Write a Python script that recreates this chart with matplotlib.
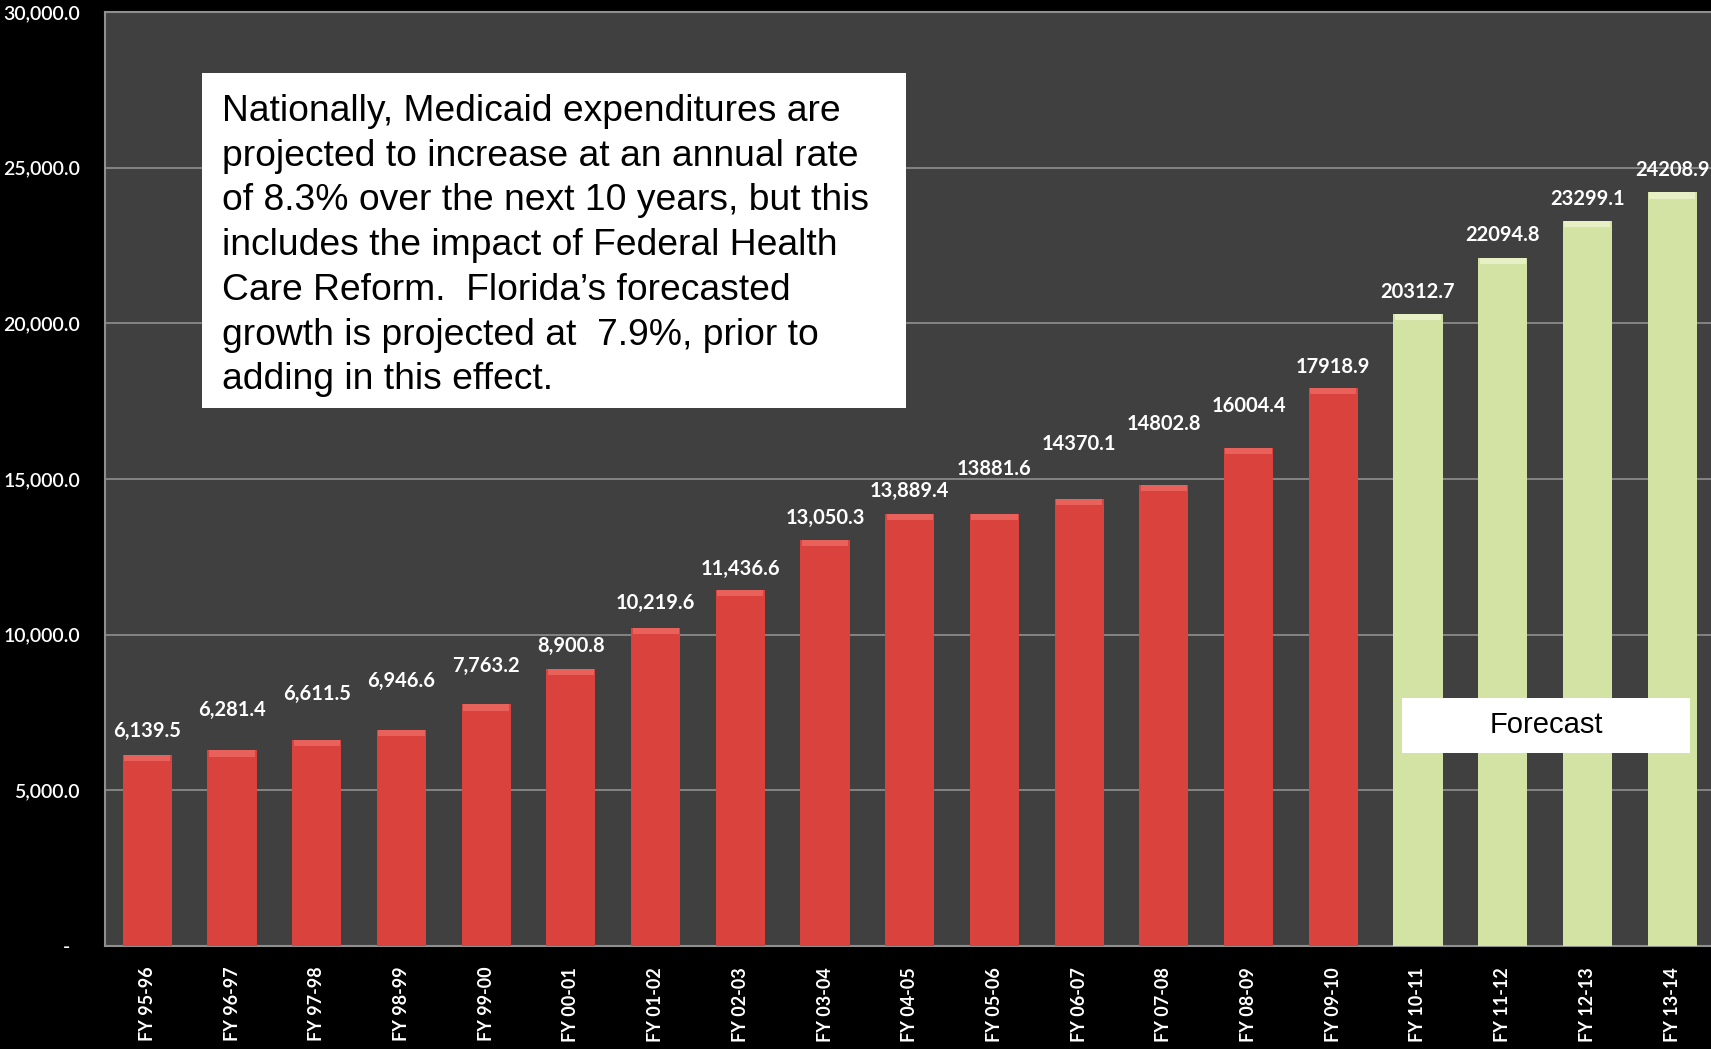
import matplotlib.pyplot as plt
from matplotlib.patches import Rectangle
from matplotlib.ticker import FuncFormatter

# ======================================
# 1. Data
# ======================================

years = ['FY 95-96', 'FY 96-97', 'FY 97-98', 'FY 98-99', 'FY 99-00',
         'FY 00-01', 'FY 01-02', 'FY 02-03', 'FY 03-04', 'FY 04-05',
         'FY 05-06', 'FY 06-07', 'FY 07-08', 'FY 08-09', 'FY 09-10',
         'FY 10-11', 'FY 11-12', 'FY 12-13', 'FY 13-14']

spending = [6139.5, 6281.4, 6611.5, 6946.6, 7763.2, 8900.8, 10219.6,
            11436.6, 13050.3, 13889.4, 13881.6, 14370.1, 14802.8,
            16004.4, 17918.9, 20312.7, 22094.8, 23299.1, 24208.9]

value_labels = ['6,139.5', '6,281.4', '6,611.5', '6,946.6', '7,763.2',
                '8,900.8', '10,219.6', '11,436.6', '13,050.3', '13,889.4',
                '13881.6', '14370.1', '14802.8', '16004.4', '17918.9',
                '20312.7', '22094.8', '23299.1', '24208.9']

is_forecast = [False] * 15 + [True] * 4

# label lift above each bar top (pixels), as placed in the original slide
label_lift = [24, 40, 46, 49, 38, 23, 25, 21, 22, 23,
              45, 55, 61, 42, 21, 22, 23, 22, 22]

note = ("Nationally, Medicaid expenditures are\n"
        "projected to increase at an annual rate\n"
        "of 8.3% over the next 10 years, but this\n"
        "includes the impact of Federal Health\n"
        "Care Reform.  Florida\u2019s forecasted\n"
        "growth is projected at  7.9%, prior to\n"
        "adding in this effect.")

# ======================================
# 2. Figure
# ======================================

W, H = 1711, 1049
fig = plt.figure(figsize=(W / 100, H / 100), dpi=100, facecolor='black')
ax = fig.add_axes([105 / W, 1 - 946 / H, 1 - 105 / W + 0.002, (946 - 12) / H])
ax.set_facecolor('#404040')

red = '#d9423d'
green = '#d2e3a3'
colors = [green if f else red for f in is_forecast]

x = list(range(len(years)))
bars = ax.bar(x, spending, width=0.58, color=colors, zorder=3)

# lighter cap on top of each bar (bevel look)
for b, c in zip(bars, colors):
    cap = '#e8625b' if c == red else '#e6f0c4'
    ax.bar(b.get_x() + b.get_width() / 2, 200, bottom=b.get_height() - 200,
           width=b.get_width() * 0.94, color=cap, zorder=4)

for xi, v, lab, lift in zip(x, spending, value_labels, label_lift):
    ax.annotate(lab, (xi, v), xytext=(0, lift * 0.72), textcoords='offset points',
                ha='center', va='center', color='white', fontsize=14.5,
                fontweight='bold', family='Lato', zorder=5)

ax.set_xlim(-0.5, len(years) - 0.5)
ax.set_ylim(0, 30000)
ax.set_yticks(range(0, 30001, 5000))
ax.yaxis.set_major_formatter(FuncFormatter(lambda v, p: '-  ' if v == 0 else f'{v:,.1f}'))
ax.grid(axis='y', color='#8a8a8a', linewidth=1.3, zorder=1)
ax.set_axisbelow(True)

ax.set_xticks(x)
ax.set_xticklabels(years, rotation=90, va='top', ha='center')
ax.tick_params(axis='x', length=0, pad=15, labelcolor='white', labelsize=13)
ax.tick_params(axis='y', length=0, pad=18, labelcolor='white', labelsize=14)
for t in ax.get_xticklabels():
    t.set_family('Lato')
    t.set_fontweight('bold')
for t in ax.get_yticklabels():
    t.set_family('Lato')
    t.set_fontweight('semibold')

for s in ['left', 'top', 'bottom']:
    ax.spines[s].set_color('#8f8f8f')
    ax.spines[s].set_linewidth(1.5)
ax.spines['right'].set_visible(False)

# ======================================
# 3. Text boxes
# ======================================

fig.patches.append(Rectangle((202 / W, 1 - 408 / H), (906 - 202) / W, (408 - 73) / H,
                             transform=fig.transFigure, facecolor='white',
                             edgecolor='none', zorder=10))
fig.text(222 / W, 1 - 94 / H, note, ha='left', va='top', fontsize=26.8,
         family='Liberation Sans', color='black', linespacing=1.36, zorder=11)

fig.patches.append(Rectangle((1402 / W, 1 - 753 / H), (1690 - 1402) / W, (753 - 698) / H,
                             transform=fig.transFigure, facecolor='white',
                             edgecolor='none', zorder=10))
fig.text(1546 / W, 1 - 725 / H, 'Forecast', ha='center', va='center', fontsize=21,
         family='Liberation Sans', color='black', zorder=11)

fig.savefig('out.png', dpi=100, facecolor='black')
